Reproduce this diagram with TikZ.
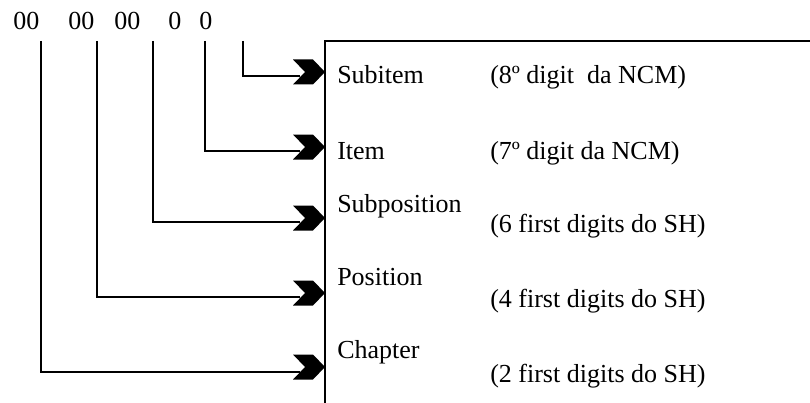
\documentclass[tikz,border=0pt]{standalone}
\usepackage{fontspec}
\setmainfont{Liberation Serif}
\begin{document}
\begin{tikzpicture}[x=0.75pt,y=-0.75pt,
  txt/.style={anchor=base west, inner sep=0pt, font=\fontsize{19.5}{23}\selectfont},
  conn/.style={line width=1.4pt},
  chev/.pic={\fill (0,0) -- (-12,-12.5) -- (-32,-12.5) -- (-20,0) -- (-32,12.5) -- (-12,12.5) -- cycle;}
]
\path[use as bounding box] (0,0) rectangle (810,403);
% code digits
\node[txt] (d1) at (13,30) {00};
\node[txt] (d2) at (68,30) {00};
\node[txt] (d3) at (114,30) {00};
\node[txt] (d4) at (168,30) {0};
\node[txt] (d5) at (199,30) {0};
% start points of connectors
\coordinate (s1) at (41,41);
\coordinate (s2) at (97,41);
\coordinate (s3) at (153,41);
\coordinate (s4) at (205,41);
\coordinate (s5) at (243,41);
% box
\coordinate (bb) at (325,403);
\coordinate (bt) at (325,41);
\coordinate (br) at (812,41);
\draw[conn] (bb) -- (bt) -- (br);
% targets
\coordinate (t1) at (300,76);
\coordinate (t2) at (300,151);
\coordinate (t3) at (300,222);
\coordinate (t4) at (300,297);
\coordinate (t5) at (300,372);
\draw[conn] (s5) |- (t1);
\draw[conn] (s4) |- (t2);
\draw[conn] (s3) |- (t3);
\draw[conn] (s2) |- (t4);
\draw[conn] (s1) |- (t5);
\pic at (325,72) {chev};
\pic at (325,147) {chev};
\pic at (325,218) {chev};
\pic at (325,293) {chev};
\pic at (325,367) {chev};
% labels
\node[txt] (l1) at (337,84) {Subitem};
\node[txt] (p1) at (490,84) {(8º digit~~da NCM)};
\node[txt] (l2) at (337,159) {Item};
\node[txt] (p2) at (490,159) {(7º digit da NCM)};
\node[txt] (l3) at (337,212) {Subposition};
\node[txt] (p3) at (490,232) {(6 first digits do SH)};
\node[txt] (l4) at (337,285) {Position};
\node[txt] (p4) at (490,307) {(4 first digits do SH)};
\node[txt] (l5) at (337,358) {Chapter};
\node[txt] (p5) at (490,382) {(2 first digits do SH)};
\end{tikzpicture}
\end{document}
